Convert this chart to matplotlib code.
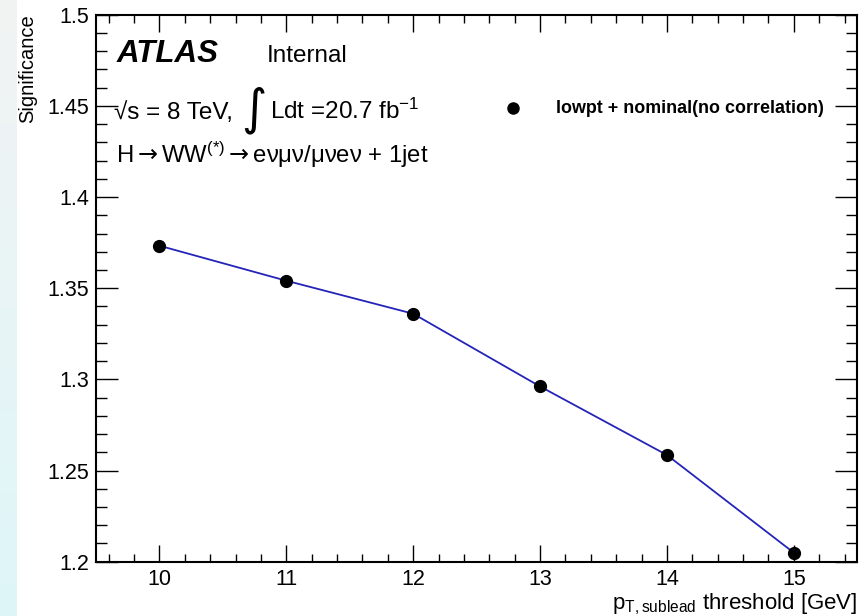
import numpy as np
import matplotlib
matplotlib.use("Agg")
import matplotlib.pyplot as plt
from matplotlib.ticker import MultipleLocator, FixedFormatter, FixedLocator

plt.rcParams['font.family'] = ['Liberation Sans', 'DejaVu Sans']
plt.rcParams['mathtext.fontset'] = 'custom'
plt.rcParams['mathtext.rm'] = 'Liberation Sans'
plt.rcParams['mathtext.it'] = 'Liberation Sans:italic'
plt.rcParams['mathtext.bf'] = 'Liberation Sans:bold'
plt.rcParams['mathtext.sf'] = 'DejaVu Sans'   # wider arrows

# pT threshold scan
thresholds = [10, 11, 12, 13, 14, 15]
significance = [1.3733, 1.3541, 1.3360, 1.2961, 1.2585, 1.2049]

y_ticks = [1.2, 1.25, 1.3, 1.35, 1.4, 1.45, 1.5]
y_tick_labels = ["1.2", "1.25", "1.3", "1.35", "1.4", "1.45", "1.5"]
x_ticks = [10, 11, 12, 13, 14, 15]

W, H = 867, 616
fig = plt.figure(figsize=(W / 100, H / 100), dpi=100)

# pale strip on the left border
strip = fig.add_axes([0, 0, 17 / W, 1])
grad = np.linspace(0, 1, 256)[:, None]
top_c = np.array([242, 243, 243]) / 255
bot_c = np.array([222, 246, 249]) / 255
img = top_c[None, None, :] * (1 - grad[:, :, None]) + bot_c[None, None, :] * grad[:, :, None]
strip.imshow(img, aspect='auto', extent=[0, 1, 0, 1])
strip.axis('off')

ax = fig.add_axes([96 / W, (H - 561.7) / H, 761.3 / W, 547 / H])
ax.set_xlim(9.5, 15.5)
ax.set_ylim(1.2, 1.5)

ax.plot(thresholds, significance, color='#2424b8', linewidth=1.3, zorder=2)
ax.plot(thresholds, significance, 'o', color='black', markersize=8.5, zorder=3)

ax.yaxis.set_major_locator(FixedLocator(y_ticks))
ax.yaxis.set_major_formatter(FixedFormatter(y_tick_labels))
ax.yaxis.set_minor_locator(MultipleLocator(0.01))
ax.xaxis.set_major_locator(FixedLocator(x_ticks))
ax.xaxis.set_minor_locator(MultipleLocator(0.2))

ax.tick_params(which='both', direction='in', top=True, right=True, width=1.0,
               labelsize=15.5, colors='black')
ax.tick_params(axis='y', which='major', length=16, pad=5)
ax.tick_params(axis='y', which='minor', length=8)
ax.tick_params(axis='x', which='major', length=12, pad=5)
ax.tick_params(axis='x', which='minor', length=6)
for sp in ax.spines.values():
    sp.set_linewidth(1.5)

ax.set_ylabel("Significance", fontsize=14.5, loc='top', labelpad=7)
ax.set_xlabel(r"p$_{\mathrm{T,sublead}}$ threshold [GeV]", fontsize=16, loc='right', labelpad=1)

# ATLAS labels
tr = ax.transAxes
ax.text(0.0276, 0.9135, "ATLAS", transform=tr, fontsize=22.5, fontweight='bold',
        fontstyle='italic', va='baseline')
ax.text(0.2245, 0.9135, "Internal", transform=tr, fontsize=17.5, va='baseline')
ax.text(0.0230, 0.8093, "√s = 8 TeV,", transform=tr, fontsize=17.5, va='baseline')
ax.text(0.207, 0.8255, "∫", transform=tr, fontsize=35, va='center', ha='center',
        family='DejaVu Sans')
ax.text(0.2285, 0.8093, r"Ldt =20.7 fb$^{-1}$", transform=tr, fontsize=17.5, va='baseline')
ax.text(0.0263, 0.7287, r"H$\mathsf{\rightarrow}$WW$^{(*)}$$\mathsf{\rightarrow}$eνμν/μνeν + 1jet",
        transform=tr, fontsize=17.2, va='baseline')

# legend entry
ax.plot([0.548], [0.8294], 'o', color='black', markersize=8, transform=tr, clip_on=False)
ax.text(0.604, 0.8294, "lowpt + nominal(no correlation)", transform=tr, fontsize=12.9,
        fontweight='bold', va='center')

fig.savefig("out.png", dpi=100)
